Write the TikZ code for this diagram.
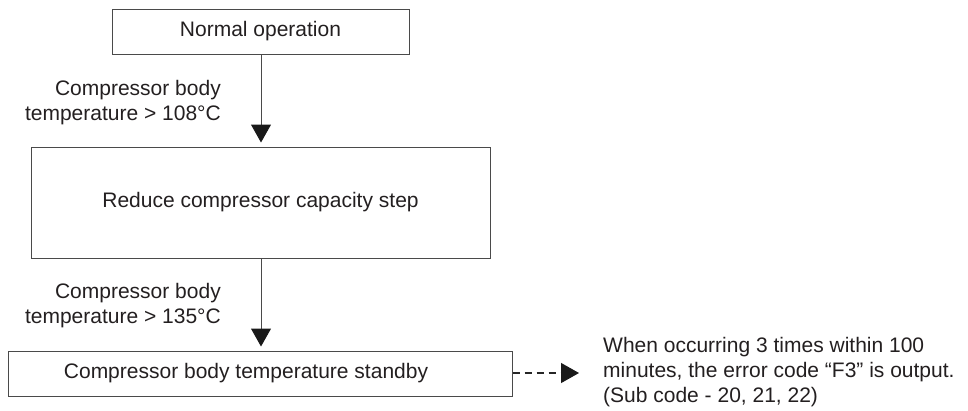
\documentclass[tikz,border=0pt]{standalone}
\usepackage{fontspec}
\setmainfont{Liberation Sans}
\usetikzlibrary{arrows.meta}
\definecolor{linegray}{HTML}{4A4A4A}
\definecolor{textdark}{HTML}{231F20}
\newcommand{\diafont}{\fontsize{21}{25}\selectfont}
\tikzset{
  box/.style={draw=linegray, line width=1pt, inner sep=0pt, font=\diafont, text=textdark},
  lbl/.style={font=\diafont, text=textdark, inner sep=0pt},
  flow/.style={draw=linegray, line width=1pt, -{Triangle[length=18pt,width=20pt,color=black!90]}},
  dflow/.style={draw=black!85, line width=1.2pt, dash pattern=on 7pt off 5pt, -{Triangle[length=18pt,width=20pt,color=black!90]}}
}
\begin{document}
\begin{tikzpicture}[x=1pt,y=-1pt]
\useasboundingbox (0,0) rectangle (968,410);
\node[box, minimum width=297pt, minimum height=45pt] (normal) at (260.5,31.5) {Normal operation};
\node[box, minimum width=459pt, minimum height=111pt] (reduce) at (260.5,202.5) {Reduce compressor capacity step};
\node[box, minimum width=504pt, minimum height=45pt] (standby) at (260,373.5) {};
\node[lbl] (standbytext) at (246,373.5) {Compressor body temperature standby};
\node[lbl, align=right, anchor=east] (l1) at (221,102.5) {Compressor body\\temperature > 108°C};
\node[lbl, align=right, anchor=east] (l2) at (221,305.5) {Compressor body\\temperature > 135°C};
\node[lbl, align=left, anchor=west] (note) at (603,372.5) {When occurring 3 times within 100\\minutes, the error code “F3” is output.\\(Sub code - 20, 21, 22)};
\coordinate (dend) at (579,373);
\draw[flow, shorten >=4pt] (normal.south -| 261,0) -- (reduce.north -| 261,0);
\draw[flow, shorten >=4pt] (reduce.south -| 261,0) -- (standby.north -| 261,0);
\draw[dflow] (standby.east |- dend) -- (dend);
\end{tikzpicture}
\end{document}
